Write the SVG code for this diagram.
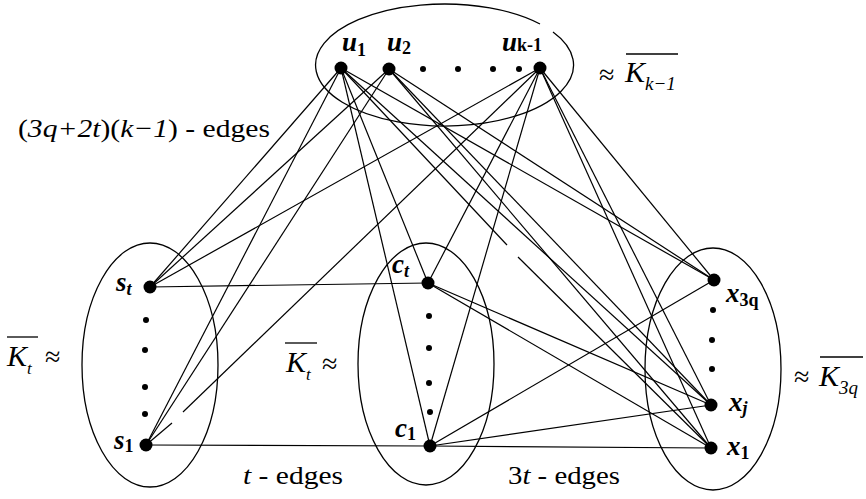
<svg xmlns="http://www.w3.org/2000/svg" width="866" height="499" viewBox="0 0 866 499">
<style>
.e{fill:none;stroke:#000;stroke-width:1.2}
.el{fill:none;stroke:#000;stroke-width:1.3}
.n{fill:#000}
.lb{font-family:"Liberation Serif",serif;font-weight:bold;font-style:italic;font-size:27px;fill:#000}
.sb{font-size:18px}
.up{font-style:normal}
.m{font-family:"Liberation Serif",serif;font-style:italic;font-size:30px;fill:#000}
.ap{font-family:"Liberation Serif",serif;font-size:28px;fill:#000}
.t{font-family:"Liberation Serif",serif;font-size:26px;fill:#000}
.ov{stroke:#000;stroke-width:1.3}
</style>
<rect width="866" height="499" fill="#fff"/>
<g id="connectors">
<line class="e" x1="341" y1="68" x2="150" y2="287"/>
<line class="e" x1="341" y1="68" x2="146" y2="445"/>
<line class="e" x1="341" y1="68" x2="428" y2="283"/>
<line class="e" x1="341" y1="68" x2="430" y2="446"/>
<line class="e" x1="341" y1="68" x2="714" y2="280"/>
<line class="e" x1="341" y1="68" x2="711" y2="405"/>
<line class="e" x1="341" y1="68" x2="507" y2="245"/>
<line class="e" x1="518" y1="257" x2="711" y2="448"/>
<line class="e" x1="389" y1="69" x2="150" y2="287"/>
<line class="e" x1="389" y1="69" x2="146" y2="445"/>
<line class="e" x1="389" y1="69" x2="714" y2="280"/>
<line class="e" x1="389" y1="69" x2="711" y2="405"/>
<line class="e" x1="389" y1="69" x2="711" y2="448"/>
<line class="e" x1="540" y1="68" x2="150" y2="287"/>
<line class="e" x1="540" y1="68" x2="183" y2="412"/>
<line class="e" x1="172" y1="423" x2="146" y2="445"/>
<line class="e" x1="540" y1="68" x2="428" y2="283"/>
<line class="e" x1="540" y1="68" x2="430" y2="446"/>
<line class="e" x1="540" y1="68" x2="714" y2="280"/>
<line class="e" x1="540" y1="68" x2="711" y2="405"/>
<line class="e" x1="540" y1="68" x2="711" y2="448"/>
<line class="e" x1="150" y1="287" x2="428" y2="283"/>
<line class="e" x1="146" y1="445" x2="430" y2="446"/>
<line class="e" x1="428" y1="283" x2="711" y2="405"/>
<line class="e" x1="428" y1="283" x2="711" y2="448"/>
<line class="e" x1="430" y1="446" x2="714" y2="280"/>
<line class="e" x1="430" y1="446" x2="711" y2="405"/>
<line class="e" x1="430" y1="446" x2="711" y2="448"/>
</g>
<g id="group-u">
<path class="el" d="M553,32 A129,61 0 1 1 540,24"/>
<circle class="n" cx="423" cy="69" r="3"/>
<circle class="n" cx="458" cy="69" r="3"/>
<circle class="n" cx="493" cy="69" r="3"/>
<circle class="n" cx="519" cy="69" r="3"/>
<text class="ap" x="599" y="84">≈</text>
<text class="m" x="625" y="82">K<tspan dy="8" font-size="19">k−1</tspan></text>
<line class="ov" x1="626" y1="54" x2="678" y2="54"/>
</g>
<g id="node-u1"><circle class="n" cx="341" cy="68" r="6.5"/><text class="lb" x="342" y="51">u<tspan class="sb up" dy="5">1</tspan></text></g>
<g id="node-u2"><circle class="n" cx="389" cy="69" r="6.5"/><text class="lb" x="387" y="51">u<tspan class="sb up" dy="3">2</tspan></text></g>
<g id="node-uk1"><circle class="n" cx="540" cy="68" r="6.5"/><text class="lb" x="502" y="51">u<tspan class="sb up">k-1</tspan></text></g>
<g id="group-s">
<ellipse class="el" cx="150" cy="365" rx="68" ry="122"/>
<circle class="n" cx="146" cy="320" r="3"/>
<circle class="n" cx="145" cy="350" r="3"/>
<circle class="n" cx="145" cy="387" r="3"/>
<circle class="n" cx="145" cy="414" r="3"/>
<line class="ov" x1="7" y1="337" x2="38" y2="337"/>
<text class="m" x="7" y="366">K<tspan dy="8" font-size="17">t</tspan></text>
<text class="ap" x="45" y="366">≈</text>
</g>
<g id="node-st"><circle class="n" cx="150" cy="287" r="6.5"/><text class="lb" x="116" y="291">s<tspan class="sb" dy="4">t</tspan></text></g>
<g id="node-s1"><circle class="n" cx="146" cy="445" r="6.5"/><text class="lb" x="114" y="449">s<tspan class="sb up" dy="3">1</tspan></text></g>
<g id="group-c">
<ellipse class="el" cx="426" cy="364" rx="68" ry="121"/>
<circle class="n" cx="429" cy="316" r="3"/>
<circle class="n" cx="429" cy="348" r="3"/>
<circle class="n" cx="429" cy="383" r="3"/>
<circle class="n" cx="430" cy="412" r="3"/>
<line class="ov" x1="285" y1="343" x2="317" y2="343"/>
<text class="m" x="286" y="372">K<tspan dy="8" font-size="17">t</tspan></text>
<text class="ap" x="322" y="373">≈</text>
</g>
<g id="node-ct"><circle class="n" cx="428" cy="283" r="6.5"/><text class="lb" x="392" y="273">c<tspan class="sb" dy="4">t</tspan></text></g>
<g id="node-c1"><circle class="n" cx="430" cy="446" r="6.5"/><text class="lb" x="395" y="437">c<tspan class="sb up" dy="3">1</tspan></text></g>
<g id="group-x">
<ellipse class="el" cx="713" cy="369" rx="68" ry="121"/>
<circle class="n" cx="713" cy="310" r="3"/>
<circle class="n" cx="712" cy="340" r="3"/>
<circle class="n" cx="712" cy="369" r="3"/>
<text class="ap" x="794" y="386">≈</text>
<line class="ov" x1="820" y1="357" x2="863" y2="357"/>
<text class="m" x="819" y="386">K<tspan dy="8" font-size="19">3q</tspan></text>
</g>
<g id="node-x3q"><circle class="n" cx="714" cy="280" r="6.5"/><text class="lb" x="726" y="302">x<tspan class="sb up" dy="4">3q</tspan></text></g>
<g id="node-xj"><circle class="n" cx="711" cy="405" r="6.5"/><text class="lb" x="729" y="411">x<tspan class="sb" dy="3">j</tspan></text></g>
<g id="node-x1"><circle class="n" cx="711" cy="448" r="6.5"/><text class="lb" x="727" y="455">x<tspan class="sb up" dy="4">1</tspan></text></g>
<g id="labels">
<text class="t" x="18" y="137" textLength="252" lengthAdjust="spacingAndGlyphs">(<tspan font-style="italic">3q+2t</tspan>)(<tspan font-style="italic">k−1</tspan>) - edges</text>
<text class="t" x="243" y="484" textLength="100" lengthAdjust="spacingAndGlyphs"><tspan font-style="italic">t</tspan> - edges</text>
<text class="t" x="508" y="484" textLength="112" lengthAdjust="spacingAndGlyphs">3<tspan font-style="italic">t</tspan> - edges</text>
</g>
</svg>
